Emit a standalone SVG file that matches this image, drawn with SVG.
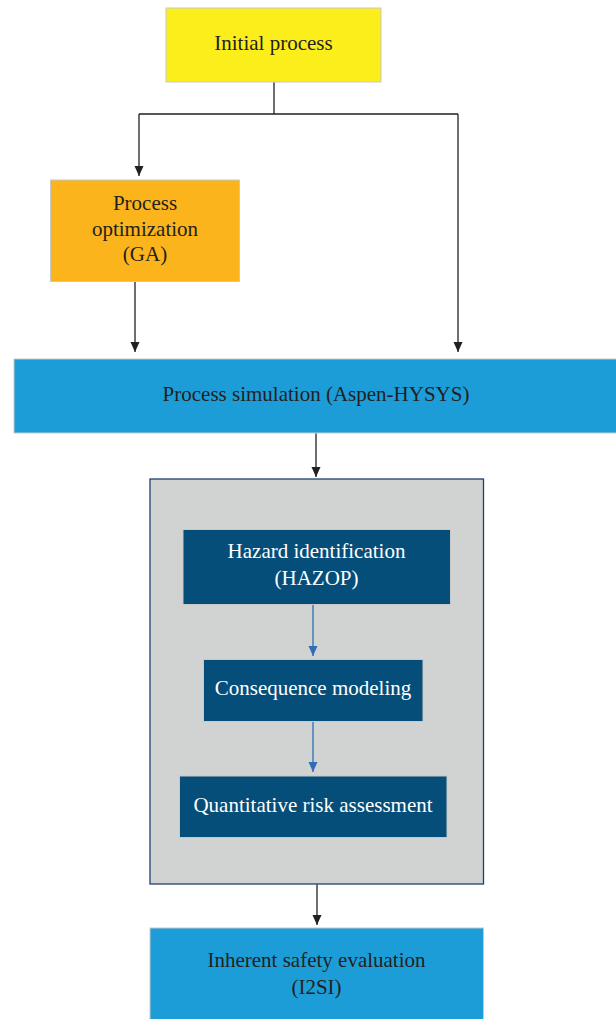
<svg xmlns="http://www.w3.org/2000/svg" width="616" height="1019" viewBox="0 0 616 1019">
<defs>
<marker id="ab" viewBox="0 0 10 10" refX="10" refY="5" markerWidth="10" markerHeight="10" markerUnits="userSpaceOnUse" orient="auto"><path d="M0,0.5 L10,5 L0,9.5 z" fill="#231f20"/></marker>
<marker id="abl" viewBox="0 0 10 10" refX="10" refY="5" markerWidth="10" markerHeight="10" markerUnits="userSpaceOnUse" orient="auto"><path d="M0,0.5 L10,5 L0,9.5 z" fill="#2f6db5"/></marker>
<style>
text{font-family:"Liberation Serif","Times New Roman",serif;font-size:21px;text-anchor:middle}
.dk{fill:#231f20}
.wt{fill:#ffffff}
.box{stroke:#c6c8c9;stroke-width:1}
.c{fill:none;stroke:#231f20;stroke-width:1.3}
.cb{fill:none;stroke:#2f6db5;stroke-width:1.3}
</style>
</defs>
<rect width="616" height="1019" fill="#ffffff"/>
<g id="risk-group">
<rect x="150" y="479" width="333.5" height="405" fill="#d1d3d3" stroke="#1f416d" stroke-width="1.3"/>
</g>
<g id="initial">
<rect class="box" x="166" y="8" width="215" height="74" fill="#fcee1a"/>
<text class="dk" x="273.5" y="50">Initial process</text>
</g>
<g id="optimization">
<rect class="box" x="50.5" y="180" width="189" height="101.5" fill="#fbb41b"/>
<text class="dk" x="145" y="210">Process</text>
<text class="dk" x="145" y="236">optimization</text>
<text class="dk" x="145" y="261">(GA)</text>
</g>
<g id="simulation">
<rect class="box" x="14" y="359" width="610" height="74" fill="#1d9dd8"/>
<text class="dk" x="316" y="401">Process simulation (Aspen-HYSYS)</text>
</g>
<g id="hazard">
<rect class="box" x="183" y="529.5" width="267.5" height="75" fill="#044e79"/>
<text class="wt" x="316.5" y="558">Hazard identification</text>
<text class="wt" x="316.5" y="585">(HAZOP)</text>
</g>
<g id="consequence">
<rect class="box" x="203.5" y="659.5" width="219.5" height="62" fill="#044e79"/>
<text class="wt" x="313" y="695">Consequence modeling</text>
</g>
<g id="qra">
<rect class="box" x="179.5" y="776" width="267.5" height="61.5" fill="#044e79"/>
<text class="wt" x="313" y="812">Quantitative risk assessment</text>
</g>
<g id="inherent">
<rect class="box" x="150" y="928" width="333.5" height="100" fill="#1d9dd8"/>
<text class="dk" x="316.5" y="967">Inherent safety evaluation</text>
<text class="dk" x="316.5" y="994">(I2SI)</text>
</g>
<g id="connectors">
<path class="c" d="M274,82.5 V114 M139,114 H458"/>
<path class="c" d="M139,114 V176" marker-end="url(#ab)"/>
<path class="c" d="M458,114 V352" marker-end="url(#ab)"/>
<path class="c" d="M135,282 V352" marker-end="url(#ab)"/>
<path class="c" d="M316,433.5 V477" marker-end="url(#ab)"/>
<path class="cb" d="M313,605 V656" marker-end="url(#abl)"/>
<path class="cb" d="M313,722 V772" marker-end="url(#abl)"/>
<path class="c" d="M317,884.5 V925" marker-end="url(#ab)"/>
</g>
</svg>
